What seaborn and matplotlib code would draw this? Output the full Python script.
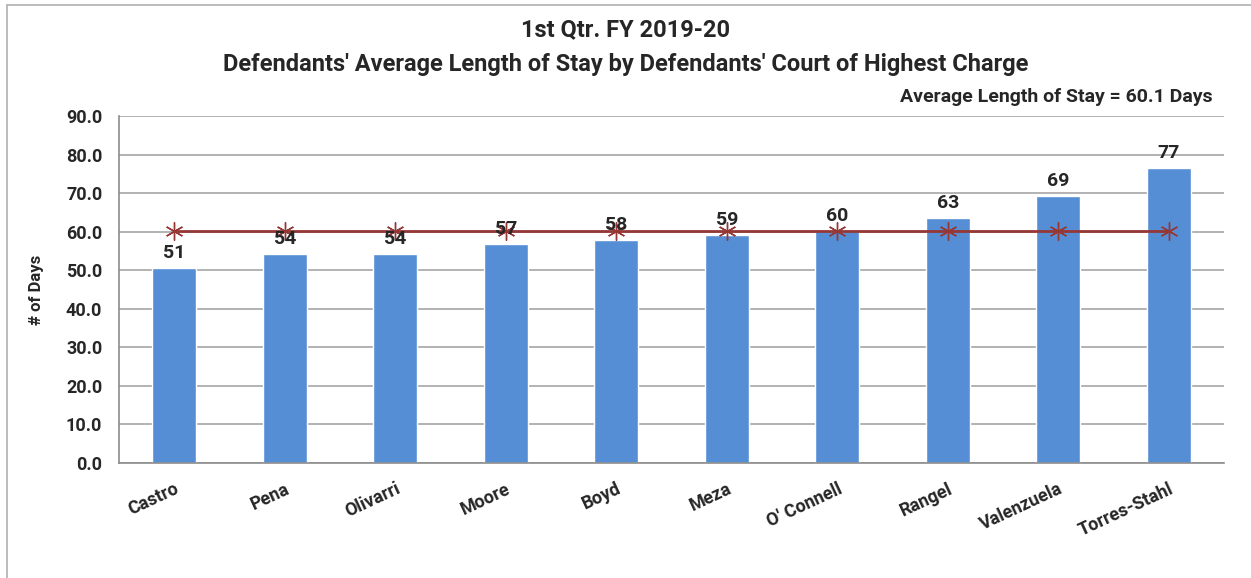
import matplotlib.pyplot as plt
import seaborn as sns
import pandas as pd
from matplotlib.lines import Line2D

judges = ["Castro", "Pena", "Olivarri", "Moore", "Boyd", "Meza",
          "O' Connell", "Rangel", "Valenzuela", "Torres-Stahl"]
avg_stay = [50.6, 54.2, 54.2, 56.7, 57.8, 59.1, 60.2, 63.5, 69.2, 76.5]
bar_labels = ["51", "54", "54", "57", "58", "59", "60", "63", "69", "77"]
overall_avg = 60.1
y_ticks = [0, 10, 20, 30, 40, 50, 60, 70, 80, 90]

df = pd.DataFrame({"judge": judges, "days": avg_stay})

sns.set_style("white")
plt.rcParams["font.family"] = ["Roboto", "DejaVu Sans"]

fig = plt.figure(figsize=(12.51, 5.78), dpi=100)
ax = fig.add_axes([119 / 1251, 1 - 463 / 578, (1224 - 119) / 1251, (463 - 116) / 578])

# outer chart frame (left and top edges visible)
fig.add_artist(Line2D([7 / 1251, 7 / 1251], [0, 1 - 5 / 578], color="#b0b0b0", lw=1.2))
fig.add_artist(Line2D([7 / 1251, 1], [1 - 5 / 578, 1 - 5 / 578], color="#b0b0b0", lw=1.2))

sns.barplot(data=df, x="judge", y="days", color="#558ED5", saturation=1,
            width=0.4, ax=ax, zorder=2)

ax.plot(range(len(judges)), [overall_avg] * len(judges), color="#953735", lw=2,
        marker=(6, 2, 0), markersize=13, markeredgewidth=1, zorder=3)

for i, (v, lab) in enumerate(zip(avg_stay, bar_labels)):
    ax.text(i, v + 1.6, lab, ha="center", va="bottom", fontsize=14,
            fontweight="bold", zorder=4)

ax.set_ylim(0, 90)
ax.set_xlim(-0.5, len(judges) - 0.5)
ax.set_yticks(y_ticks)
ax.set_yticklabels([f"{t:.1f}" for t in y_ticks], fontsize=13, fontweight="bold")
ax.yaxis.grid(True, color="#a6a6a6", lw=1.2, zorder=0)
ax.set_axisbelow(True)

ax.set_xticks(range(len(judges)))
ax.set_xticklabels(judges, rotation=25, ha="right", rotation_mode="anchor",
                   fontsize=13, fontweight="bold")
ax.tick_params(axis="x", length=0, pad=12)
ax.set_xticks([i - 0.5 for i in range(len(judges) + 1)], minor=True)
ax.tick_params(axis="x", which="minor", length=7, color="#8c8c8c", width=1.2)
ax.tick_params(axis="y", length=6, color="#8c8c8c", width=1.2, pad=6)

for s in ["top", "right"]:
    ax.spines[s].set_visible(False)
for s in ["left", "bottom"]:
    ax.spines[s].set_color("#8c8c8c")
    ax.spines[s].set_linewidth(1.2)

ax.set_xlabel("")
ax.set_ylabel("# of Days", fontsize=12, fontweight="bold", labelpad=16)

fig.text(0.5, 1 - 30 / 578, "1st Qtr. FY 2019-20", ha="center", va="center",
         fontsize=17, fontweight="bold")
fig.text(0.5, 1 - 65 / 578,
         "Defendants' Average Length of Stay by Defendants' Court of Highest Charge",
         ha="center", va="center", fontsize=17, fontweight="bold")
fig.text(1213 / 1251, 1 - 97 / 578, "Average Length of Stay = 60.1 Days",
         ha="right", va="center", fontsize=14, fontweight="bold")

fig.savefig("out.png", dpi=100)
